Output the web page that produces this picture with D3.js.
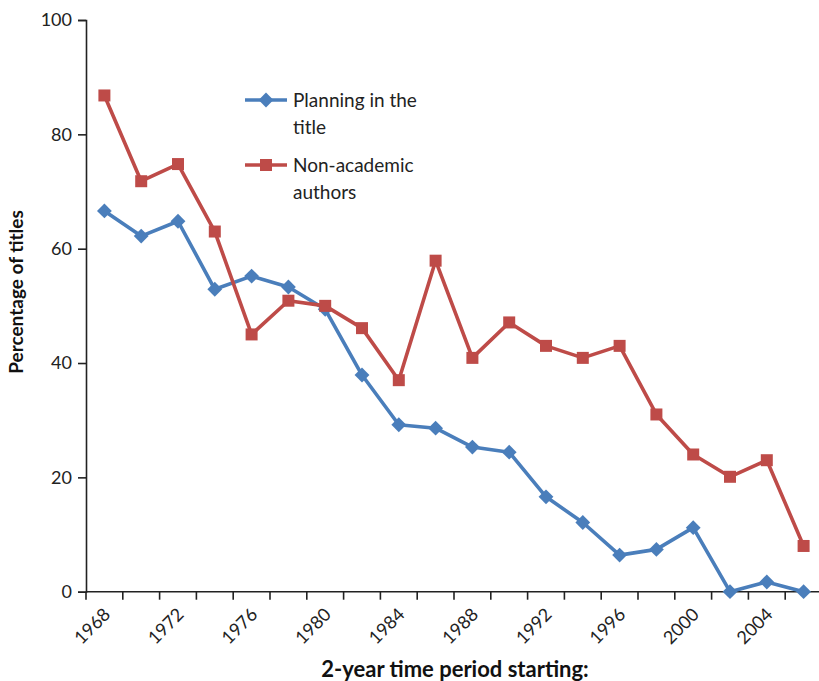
<!DOCTYPE html>
<html>
<head>
<meta charset="utf-8">
<script src="https://cdn.jsdelivr.net/npm/d3@7"></script>
<style>
  html, body { margin: 0; padding: 0; background: #fff; }
  svg { display: block; font-family: Lato, "Open Sans", sans-serif; }
</style>
</head>
<body>
<svg id="chart" width="819" height="681"></svg>
<script>
const categories = ["1968","1970","1972","1974","1976","1978","1980","1982","1984","1986","1988","1990","1992","1994","1996","1998","2000","2002","2004","2006"];
const planningValues = [66.6, 62.2, 64.8, 52.9, 55.2, 53.3, 49.4, 37.9, 29.2, 28.6, 25.3, 24.4, 16.6, 12.1, 6.4, 7.4, 11.2, 0, 1.7, 0];
const nonAcademicValues = [86.8, 71.8, 74.8, 63.0, 45.0, 50.9, 50.0, 46.1, 37.0, 57.9, 40.9, 47.1, 43.0, 40.9, 43.0, 31.0, 24.0, 20.1, 23.0, 8.0];
const yTicks = [0, 20, 40, 60, 80, 100];
const xTickLabels = ["1968","1972","1976","1980","1984","1988","1992","1996","2000","2004"];
const seriesNames = ["Planning in the|title", "Non-academic|authors"];

const svg = d3.select("#chart");
const plotLeft = 86, plotTop = 20, plotBottom = 591.7, bandW = 36.8;
const x = d3.scaleBand().domain(categories).range([plotLeft, plotLeft + categories.length * bandW]).padding(0);
const y = d3.scaleLinear().domain([0, 100]).range([plotBottom, plotTop]);

const axisColor = "#222";

// Y axis
const yAxis = svg.append("g").attr("transform", `translate(${plotLeft},0)`)
  .call(d3.axisLeft(y).tickValues(yTicks).tickSize(8).tickPadding(6));
yAxis.select(".domain").attr("stroke", axisColor).attr("stroke-width", 1.6);
yAxis.selectAll(".tick line").attr("stroke", axisColor).attr("stroke-width", 1.6);
yAxis.selectAll(".tick text").attr("font-size", 18).attr("fill", "#222").attr("font-family", "Lato, sans-serif");

// X axis line + tick marks at band boundaries
const xAxis = svg.append("g").attr("transform", `translate(0,${plotBottom})`);
xAxis.append("line").attr("x1", plotLeft).attr("x2", x.range()[1]).attr("stroke", axisColor).attr("stroke-width", 1.6);
const boundaries = categories.map(c => x(c)).concat([x.range()[1]]);
xAxis.selectAll("line.tk").data(boundaries).join("line").attr("class", "tk")
  .attr("x1", d => d).attr("x2", d => d).attr("y1", 0).attr("y2", 8)
  .attr("stroke", axisColor).attr("stroke-width", 1.6);
xAxis.selectAll("text.lbl").data(xTickLabels).join("text").attr("class", "lbl")
  .attr("transform", d => `translate(${x(d) + x.bandwidth() / 2 + 7},${24}) rotate(-45)`)
  .attr("text-anchor", "end").attr("font-size", 18).attr("fill", "#222")
  .text(d => d);

// Lines
const series = [
  { values: planningValues, color: "#4a7ebb", marker: "diamond" },
  { values: nonAcademicValues, color: "#be4b48", marker: "square" }
];
const line = d3.line().x((d, i) => x(categories[i]) + x.bandwidth() / 2).y(d => y(d));

function drawMarker(g, type, color) {
  if (type === "diamond") {
    g.append("path").attr("d", d3.symbol(d3.symbolDiamond2, 140)()).attr("fill", color);
  } else {
    g.append("path").attr("d", d3.symbol(d3.symbolSquare, 144)()).attr("fill", color);
  }
}

series.forEach(s => {
  svg.append("path").datum(s.values).attr("d", line)
    .attr("fill", "none").attr("stroke", s.color).attr("stroke-width", 3.6).attr("stroke-linejoin", "round");
  s.values.forEach((v, i) => {
    const g = svg.append("g").attr("transform", `translate(${x(categories[i]) + x.bandwidth() / 2},${y(v)})`);
    drawMarker(g, s.marker, s.color);
  });
});

// Legend
const legendItems = [
  { name: seriesNames[0], color: "#4a7ebb", marker: "diamond", y: 100 },
  { name: seriesNames[1], color: "#be4b48", marker: "square", y: 165 }
];
legendItems.forEach(it => {
  const g = svg.append("g").attr("transform", `translate(0,${it.y})`);
  g.append("line").attr("x1", 245).attr("x2", 287).attr("stroke", it.color).attr("stroke-width", 3.6);
  const m = g.append("g").attr("transform", "translate(266,0)");
  drawMarker(m, it.marker, it.color);
  const lines = it.name.split("|");
  lines.forEach((t, k) => {
    g.append("text").attr("x", 293).attr("y", k * 27).attr("dy", "0.35em")
      .attr("font-size", 19).attr("fill", "#222").text(t);
  });
});

// Axis titles
svg.append("text").attr("transform", `translate(23,292) rotate(-90)`)
  .attr("text-anchor", "middle").attr("font-size", 19).attr("font-weight", "bold").attr("fill", "#111")
  .text("Percentage of titles");
svg.append("text").attr("x", 455).attr("y", 677)
  .attr("text-anchor", "middle").attr("font-size", 22).attr("font-weight", "bold").attr("fill", "#111")
  .text("2-year time period starting:");
</script>
</body>
</html>
